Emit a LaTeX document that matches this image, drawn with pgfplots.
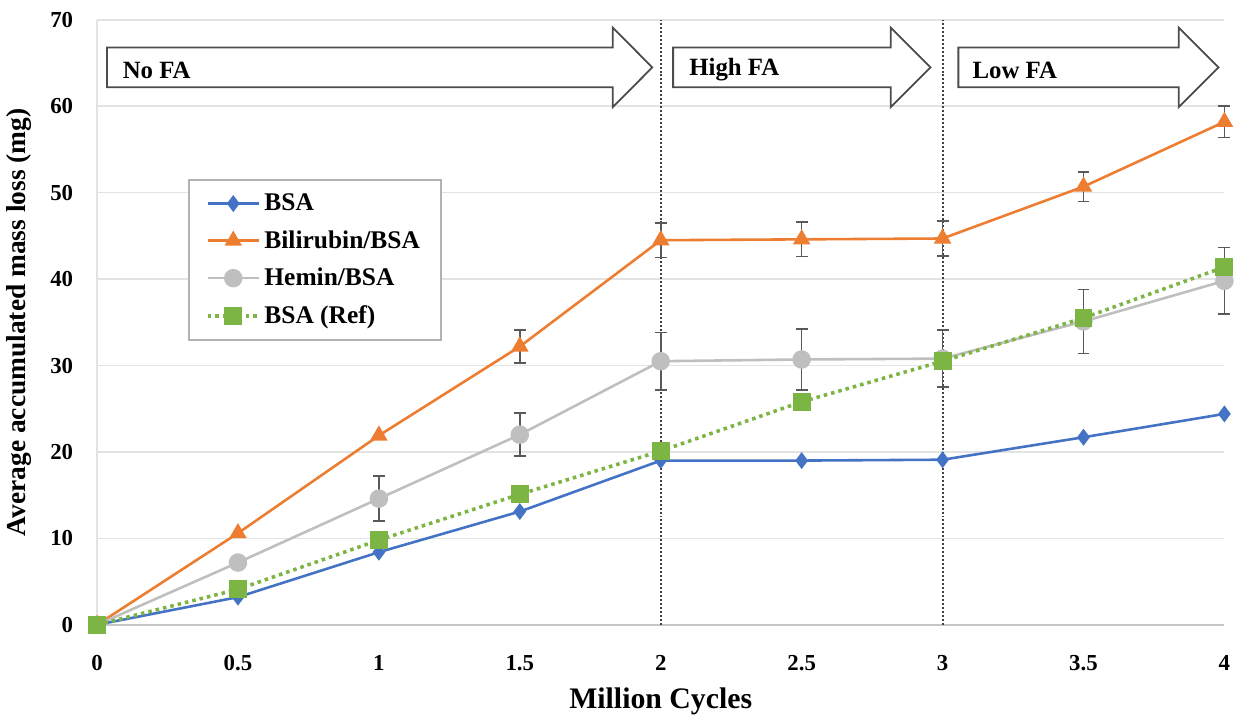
\documentclass[border=0pt]{standalone}
\usepackage{fontspec}
\setmainfont{Liberation Serif}
\usepackage{pgfplots}
\pgfplotsset{compat=1.18}
\definecolor{cBSA}{HTML}{4472C4}
\definecolor{cBil}{HTML}{ED7D31}
\definecolor{cHem}{HTML}{BFBFBF}
\definecolor{cRef}{HTML}{7DB545}
\definecolor{cErr}{HTML}{595959}
\begin{document}
\begin{tikzpicture}
\begin{axis}[
  scale only axis, width=567.5pt, height=304.5pt,
  xmin=0, xmax=4, ymin=0, ymax=70,
  xtick={0,0.5,1,1.5,2,2.5,3,3.5,4},
  ytick={0,10,20,30,40,50,60,70},
  xticklabels={0,0.5,1,1.5,2,2.5,3,3.5,4},
  major tick length=0pt,
  ymajorgrids, grid style={draw=gray!22, line width=0.8pt},
  axis x line=bottom, axis y line=left,
  x axis line style={-, draw=gray!45, line width=0.8pt},
  y axis line style={-, draw=gray!22, line width=0.8pt},
  /pgf/number format/assume math mode=true,
  ticklabel style={font=\bfseries\fontsize{11.5}{12}\selectfont},
  yticklabel style={xshift=-8.5pt},
  xticklabel style={yshift=-12pt},
  xlabel={Million Cycles},
  ylabel={Average accumulated mass loss (mg)},
  xlabel style={font=\bfseries\fontsize{15}{16}\selectfont, yshift=-1.5pt},
  ylabel style={font=\bfseries\fontsize{13.8}{15}\selectfont, yshift=2.5pt},
  legend style={at={(0.081,0.737)}, anchor=north west, draw=gray!60, line width=0.8pt,
    font=\bfseries\fontsize{12.8}{14}\selectfont, row sep=4.5pt, inner xsep=8.5pt, inner ysep=5pt,
    legend cell align=left},
  legend image code/.code={\draw[mark repeat=2,mark phase=2] plot coordinates {(0cm,0cm) (0.45cm,0cm) (0.9cm,0cm)};},
  clip=false,
]
% top margin
\path (rel axis cs:0,1) ++(0pt,10pt);
% phase separators
\draw[densely dotted, gray!50!black, line width=1pt] (axis cs:2,0) -- (axis cs:2,70);
\draw[densely dotted, gray!50!black, line width=1pt] (axis cs:3,0) -- (axis cs:3,70);
% arrows
\draw[gray!60!black, fill=white, line width=0.9pt] (axis cs:0.035,62.2) -- (axis cs:1.83,62.2) -- (axis cs:1.83,59.9) -- (axis cs:1.97,64.5) -- (axis cs:1.83,69.1) -- (axis cs:1.83,66.8) -- (axis cs:0.035,66.8) -- cycle;
\draw[gray!60!black, fill=white, line width=0.9pt] (axis cs:2.044,62.2) -- (axis cs:2.816,62.2) -- (axis cs:2.816,59.9) -- (axis cs:2.957,64.5) -- (axis cs:2.816,69.1) -- (axis cs:2.816,66.8) -- (axis cs:2.044,66.8) -- cycle;
\draw[gray!60!black, fill=white, line width=0.9pt] (axis cs:3.056,62.2) -- (axis cs:3.838,62.2) -- (axis cs:3.838,59.9) -- (axis cs:3.979,64.5) -- (axis cs:3.838,69.1) -- (axis cs:3.838,66.8) -- (axis cs:3.056,66.8) -- cycle;
\node[anchor=west, font=\bfseries\fontsize{12.5}{13}\selectfont, inner sep=0pt] at (axis cs:0.09,64.2) {No FA};
\node[anchor=west, font=\bfseries\fontsize{12.5}{13}\selectfont, inner sep=0pt] at (axis cs:2.1,64.2) {High FA};
\node[anchor=west, font=\bfseries\fontsize{12.5}{13}\selectfont, inner sep=0pt] at (axis cs:3.105,64.2) {Low FA};

\addplot[cBSA, line width=1.3pt, mark=diamond*, mark size=3.2pt, mark options={fill=cBSA, draw=cBSA}]
  coordinates {(0,0) (0.5,3.2) (1,8.4) (1.5,13.1) (2,19.0) (2.5,19.0) (3,19.1) (3.5,21.7) (4,24.4)};
\addlegendentry{BSA}

\addplot[cBil, line width=1.3pt, mark=triangle*, mark size=3.8pt, mark options={fill=cBil, draw=cBil},
  error bars/.cd, y dir=both, y explicit,
  error bar style={draw=cErr, line width=0.8pt},
  error mark options={rotate=90, draw=cErr, mark size=3pt, line width=0.8pt}]
  coordinates {(0,0) (0.5,10.6) (1,21.9) (1.5,32.2) +- (0,1.9) (2,44.5) +- (0,2.0) (2.5,44.6) +- (0,2.0) (3,44.7) +- (0,2.0) (3.5,50.7) +- (0,1.7) (4,58.2) +- (0,1.8)};
\addlegendentry{Bilirubin/BSA}

\addplot[cHem, line width=1.3pt, mark=*, mark size=4pt, mark options={fill=cHem, draw=cHem},
  error bars/.cd, y dir=both, y explicit,
  error bar style={draw=cErr, line width=0.8pt},
  error mark options={rotate=90, draw=cErr, mark size=3pt, line width=0.8pt}]
  coordinates {(0,0) (0.5,7.2) (1,14.6) +- (0,2.6) (1.5,22.0) +- (0,2.5) (2,30.5) +- (0,3.3) (2.5,30.7) +- (0,3.5) (3,30.8) +- (0,3.3) (3.5,35.1) +- (0,3.7) (4,39.8) +- (0,3.85)};
\addlegendentry{Hemin/BSA}

\addplot[cRef, line width=1.8pt, dotted, mark=square*, mark size=3.6pt, mark options={solid, fill=cRef, draw=cRef}]
  coordinates {(0,0) (0.5,4.1) (1,9.8) (1.5,15.1) (2,20.1) (2.5,25.8) (3,30.5) (3.5,35.5) (4,41.4)};
\addlegendentry{BSA (Ref)}
\end{axis}
\end{tikzpicture}
\end{document}
